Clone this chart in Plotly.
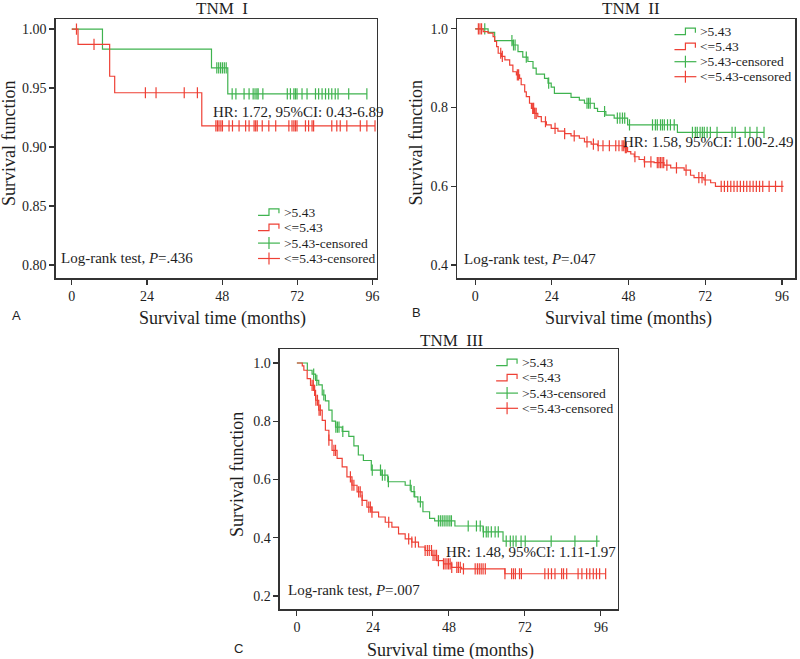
import plotly.graph_objects as go

W, H = 800, 659
GREEN = "#3fb34f"
RED = "#ee4035"
INK = "#1e1e1e"
AXIS = "#333333"
SERIF = "Liberation Serif, Times New Roman, serif"
SANS = "Liberation Sans, Arial, sans-serif"

# ---------------- Panel A: TNM I ----------------
a_hi_time = [0, 9.8, 44.6, 49.8, 94.2]
a_hi_surv = [1.0, 0.983, 0.967, 0.945, 0.945]
a_hi_cens = [46.3, 46.9, 47.5, 48.1, 48.7, 49.3, 51.2, 52.4, 55.0, 56.6, 57.9, 58.5, 59.1,
             59.5, 61.0, 68.8, 69.8, 70.9, 71.4, 71.9, 73.5, 75.1, 77.8, 78.8, 79.9, 81.0,
             82.0, 83.0, 84.1, 85.0, 88.4, 94.2]
a_lo_time = [0, 2.0, 12.1, 13.7, 41.5, 96.8]
a_lo_surv = [1.0, 0.987, 0.960, 0.946, 0.918, 0.918]
a_lo_cens = [1.5, 7.1, 23.5, 26.9, 35.9, 40.1, 46.0, 46.5, 47.0, 47.6, 48.1, 50.2, 51.3,
             53.4, 55.5, 56.6, 58.2, 58.7, 59.2, 60.8, 62.9, 65.1, 69.3, 70.3, 70.9, 71.4,
             71.9, 74.6, 75.6, 76.7, 77.2, 83.0, 84.6, 85.7, 87.8, 92.1, 94.2, 96.8]

# ---------------- Panel B: TNM II ----------------
b_hi_time = [0, 4.05, 6.1, 11.8, 13.4, 14.9, 16.5, 18.1, 19.1, 21.7, 22.8, 23.8, 24.8, 30.0,
             32.6, 34.2, 37.3, 38.3, 40.9, 43.5, 47.7, 63.3, 90.4]
b_hi_surv = [1.0, 0.991, 0.970, 0.959, 0.942, 0.928, 0.917, 0.900, 0.885, 0.874, 0.862, 0.852,
             0.836, 0.826, 0.819, 0.811, 0.798, 0.790, 0.781, 0.773, 0.756, 0.737, 0.737]
b_hi_cens = [3.0, 11.5, 12.0, 12.5, 16.0, 23.0, 35.0, 35.5, 36.0, 40.5, 44.5, 45.3, 46.1,
             46.8, 48.3, 55.5, 56.4, 57.0, 58.0, 58.6, 59.2, 60.2, 61.1, 62.3, 68.0, 68.9,
             69.5, 70.4, 71.1, 71.7, 72.6, 73.6, 75.7, 80.4, 81.4, 84.5, 86.0, 88.2, 90.4]
b_lo_time = [0, 2.5, 4.05, 5.6, 6.1, 6.7, 7.2, 8.2, 9.3, 10.8, 11.8, 12.9, 13.9, 14.4, 15.5,
             16.0, 17.0, 17.6, 18.6, 19.6, 20.7, 22.3, 23.8, 25.9, 28.0, 30.0, 32.6, 34.2,
             36.3, 38.3, 46.6, 47.7, 48.7, 49.8, 51.3, 52.9, 56.0, 59.1, 61.2, 65.4, 67.4,
             68.5, 71.6, 73.7, 75.2, 96.5]
b_lo_surv = [1.0, 0.993, 0.989, 0.980, 0.968, 0.955, 0.938, 0.930, 0.921, 0.908, 0.891,
             0.883, 0.874, 0.858, 0.840, 0.828, 0.811, 0.798, 0.785, 0.777, 0.764, 0.756,
             0.747, 0.740, 0.734, 0.728, 0.722, 0.713, 0.707, 0.703, 0.698, 0.688, 0.682,
             0.675, 0.668, 0.662, 0.660, 0.654, 0.647, 0.641, 0.628, 0.622, 0.616, 0.609,
             0.600, 0.600]
b_lo_cens = [1.0, 1.5, 2.0, 8.0, 8.5, 13.2, 13.6, 18.0, 18.3, 18.7, 19.1, 22.0, 25.0, 28.0,
             31.0, 35.0, 37.0, 38.5, 40.0, 42.0, 44.0, 45.0, 46.0, 46.5, 47.0, 47.3, 50.0,
             53.0, 55.0, 57.0, 57.5, 58.0, 58.5, 59.0, 60.0, 63.0, 66.0, 70.0, 71.0, 72.0,
             77.0, 78.0, 79.0, 80.0, 81.0, 82.0, 83.0, 84.0, 85.0, 86.0, 87.0, 88.0, 89.0,
             90.0, 92.0, 94.0, 96.0]

# ---------------- Panel C: TNM III ----------------
c_hi_time = [0, 3.3, 4.8, 5.9, 6.9, 8.0, 9.0, 10.1, 11.1, 12.2, 14.3, 16.4, 18.0, 19.4,
             21.0, 23.5, 26.6, 28.7, 34.2, 36.1, 37.2, 38.2, 39.8, 41.9, 43.5, 49.9, 58.8,
             65.1, 95.6]
c_hi_surv = [1.0, 0.975, 0.962, 0.940, 0.925, 0.890, 0.870, 0.838, 0.800, 0.780, 0.765,
             0.748, 0.715, 0.684, 0.665, 0.632, 0.615, 0.592, 0.580, 0.558, 0.540, 0.523,
             0.489, 0.466, 0.458, 0.440, 0.420, 0.388, 0.388]
c_hi_cens = [5.3, 6.3, 8.5, 12.3, 12.8, 13.3, 14.5, 23.8, 26.4, 27.0, 27.8, 28.9, 35.8,
             37.0, 39.0, 44.7, 45.3, 45.9, 46.5, 47.1, 47.7, 48.3, 48.8, 54.1, 56.7, 57.9,
             58.9, 59.8, 60.4, 61.4, 62.6, 63.6, 66.1, 67.4, 68.3, 69.2, 70.8, 72.1, 80.3,
             87.8, 94.7]
c_lo_time = [0, 1.7, 2.2, 3.25, 4.3, 5.4, 5.9, 6.9, 8.0, 9.0, 10.1, 11.1, 12.7, 14.3, 15.8,
             17.4, 19.0, 20.6, 22.1, 23.7, 25.8, 27.9, 30.0, 32.1, 34.2, 36.3, 38.4, 40.5,
             42.6, 44.2, 46.3, 48.9, 52.0, 65.7, 97.5]
c_lo_surv = [1.0, 0.990, 0.975, 0.946, 0.923, 0.906, 0.872, 0.838, 0.803, 0.769, 0.735,
             0.700, 0.672, 0.643, 0.609, 0.580, 0.557, 0.528, 0.505, 0.488, 0.471, 0.453,
             0.436, 0.413, 0.396, 0.385, 0.368, 0.356, 0.339, 0.321, 0.310, 0.298, 0.293,
             0.276, 0.276]
c_lo_cens = [4.8, 5.2, 5.6, 6.0, 6.5, 7.0, 7.4, 10.1, 11.7, 12.2, 16.9, 17.4, 18.0, 19.5,
             20.0, 20.6, 22.7, 23.2, 23.7, 29.0, 35.3, 36.3, 37.4, 40.5, 41.2, 41.8, 42.5,
             43.0, 43.6, 44.1, 44.7, 46.3, 46.8, 47.4, 47.9, 48.4, 48.9, 50.5, 51.0, 51.6,
             52.6, 56.3, 57.0, 57.6, 58.2, 58.8, 59.5, 65.7, 67.8, 68.4, 69.0, 70.3, 70.9,
             78.3, 79.4, 80.4, 81.5, 83.6, 84.2, 85.2, 88.8, 90.0, 91.5, 92.5, 93.6, 94.6,
             95.6, 97.5]

x_ticks = [0, 24, 48, 72, 96]
a_yticks = [0.80, 0.85, 0.90, 0.95, 1.00]
b_yticks = [0.4, 0.6, 0.8, 1.0]
c_yticks = [0.2, 0.4, 0.6, 0.8, 1.0]
legend_labels = [">5.43", "<=5.43", ">5.43-censored", "<=5.43-censored"]
titles = ["TNM  I", "TNM  II", "TNM  III"]
hr_texts = ["HR: 1.72, 95%CI: 0.43-6.89", "HR: 1.58, 95%CI: 1.00-2.49",
            "HR: 1.48, 95%CI: 1.11-1.97"]
logrank_texts = ["Log-rank test, <i>P</i>=.436", "Log-rank test, <i>P</i>=.047",
                 "Log-rank test, <i>P</i>=.007"]
panel_letters = ["A", "B", "C"]


def step_value(times, surv, t):
    v = surv[0]
    for ti, si in zip(times, surv):
        if ti <= t:
            v = si
        else:
            break
    return v


def PX(x):
    return x / W


def PY(y):
    return 1 - y / H


fig = go.Figure()

panels = [
    ("", (a_hi_time, a_hi_surv, a_hi_cens), (a_lo_time, a_lo_surv, a_lo_cens)),
    ("2", (b_hi_time, b_hi_surv, b_hi_cens), (b_lo_time, b_lo_surv, b_lo_cens)),
    ("3", (c_hi_time, c_hi_surv, c_hi_cens), (c_lo_time, c_lo_surv, c_lo_cens)),
]
for suf, hi, lo in panels:
    for (t, s, c), col in ((hi, GREEN), (lo, RED)):
        fig.add_trace(go.Scatter(x=t, y=s, mode="lines",
                                 line=dict(color=col, width=1.2, shape="hv"),
                                 xaxis="x" + suf, yaxis="y" + suf,
                                 showlegend=False, hoverinfo="skip"))
        fig.add_trace(go.Scatter(x=c, y=[step_value(t, s, ci) for ci in c], mode="markers",
                                 marker=dict(symbol="line-ns", size=8,
                                             line=dict(color=col, width=1.2)),
                                 xaxis="x" + suf, yaxis="y" + suf,
                                 showlegend=False, hoverinfo="skip"))

axis_common = dict(showline=True, mirror=True, linecolor=AXIS, linewidth=1.5,
                   ticks="outside", ticklen=5, tickwidth=1.2, tickcolor=AXIS,
                   showgrid=False, zeroline=False, fixedrange=True,
                   tickfont=dict(family=SERIF, size=14, color=INK))

# pixel geometry of each plot frame: (left, right, top, bottom)
frames = [(56, 378, 19, 278), (459, 798, 19, 278), (281, 620, 349, 609)]
xranges = [[-5.1, 97.3], [-5.6, 100.1], [-5.35, 101.3]]
yranges = [[0.789, 1.0085], [0.367, 1.025], [0.155, 1.048]]
yticks = [a_yticks, b_yticks, c_yticks]
yfmt = ["{:.2f}", "{:.1f}", "{:.1f}"]

layout = dict(width=W, height=H, margin=dict(l=0, r=0, t=0, b=0),
              paper_bgcolor="white", plot_bgcolor="white", showlegend=False)
for i, suf in enumerate(["", "2", "3"]):
    l, r, t, b = frames[i]
    layout["xaxis" + suf] = dict(axis_common, domain=[PX(l), PX(r)], range=xranges[i],
                                 tickvals=x_ticks, anchor="y" + suf)
    layout["yaxis" + suf] = dict(axis_common, domain=[PY(b), PY(t)], range=yranges[i],
                                 tickvals=yticks[i],
                                 ticktext=[yfmt[i].format(v) for v in yticks[i]],
                                 anchor="x" + suf)
fig.update_layout(**layout)

ann = []


def text(x, y, s, size, xanchor="center", family=SERIF, angle=0):
    ann.append(dict(x=PX(x), y=PY(y), xref="paper", yref="paper", text=s, showarrow=False,
                    xanchor=xanchor, yanchor="middle", textangle=angle,
                    font=dict(family=family, size=size, color=INK)))


title_pos = [(223, 9), (633, 9), (454, 340)]
xtitle_pos = [(223, 318), (631, 318), (452, 650)]
ytitle_pos = [(9, 143), (418, 143), (238, 475)]
hr_pos = [(212, 112), (623, 142), (446, 552)]
lr_pos = [(59, 258), (464, 259), (287, 590)]
letter_pos = [(17, 315), (418, 313), (239, 648)]
legend_pos = [(259, 212.3, 15.4), (677, 31.7, 15.0), (498, 362.7, 15.2)]

shapes = []
for i in range(3):
    text(*title_pos[i], titles[i], 17)
    text(*xtitle_pos[i], "Survival time (months)", 18)
    text(*ytitle_pos[i], "Survival function", 18, angle=-90)
    text(*hr_pos[i], hr_texts[i], 15, xanchor="left")
    text(*lr_pos[i], logrank_texts[i], 15, xanchor="left")
    text(*letter_pos[i], panel_letters[i], 13, family=SANS)
    x0, y0, dy = legend_pos[i]
    for k, lab in enumerate(legend_labels):
        y = y0 + k * dy
        col = GREEN if k % 2 == 0 else RED
        if k < 2:
            path = "M {} {} L {} {} L {} {} L {} {} L {} {}".format(
                PX(x0), PY(y + 3), PX(x0 + 11), PY(y + 3), PX(x0 + 11), PY(y - 3.5),
                PX(x0 + 21), PY(y - 3.5), PX(x0 + 21), PY(y + 1))
            shapes.append(dict(type="path", path=path, xref="paper", yref="paper",
                               line=dict(color=col, width=1.2)))
        else:
            shapes.append(dict(type="line", xref="paper", yref="paper",
                               x0=PX(x0), x1=PX(x0 + 22), y0=PY(y), y1=PY(y),
                               line=dict(color=col, width=1.2)))
            shapes.append(dict(type="line", xref="paper", yref="paper",
                               x0=PX(x0 + 11), x1=PX(x0 + 11), y0=PY(y - 6), y1=PY(y + 6),
                               line=dict(color=col, width=1.2)))
        text(x0 + 24, y, lab, 13.5, xanchor="left")

fig.update_layout(annotations=ann, shapes=shapes)
fig.write_html("out.html", config={"displayModeBar": False, "staticPlot": True},
               post_script="document.body.style.margin='0';"
                           "document.body.style.overflow='hidden';")
